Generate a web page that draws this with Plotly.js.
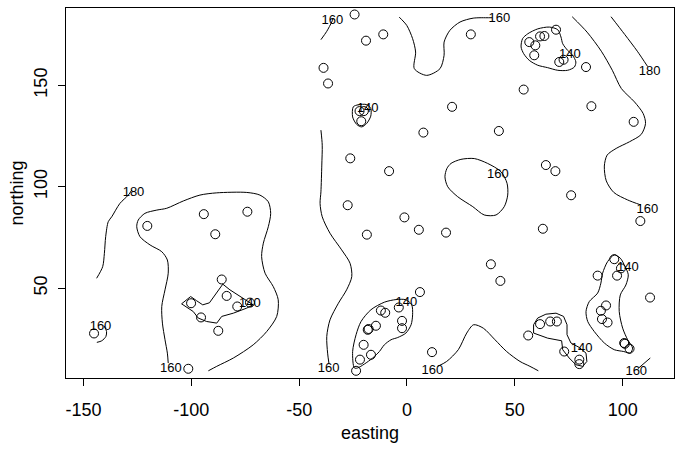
<!DOCTYPE html>
<html>
<head>
<meta charset="utf-8">
<script src="https://cdn.plot.ly/plotly-3.0.1.min.js"></script>
<style>html,body{margin:0;padding:0;background:#fff;}#chart{width:682px;height:451px;}</style>
</head>
<body>
<div id="chart"></div>
<script>
// sample locations
const easting = [-24.3,-19.0,-11.0,29.6,-38.7,-36.6,-22.0,-20.0,-21.2,-26.3,20.9,7.6,42.6,-8.3,54.1,56.7,59.5,61.7,63.7,69.1,59.0,70.6,72.6,83.0,85.5,105.1,64.4,68.8,76.1,-27.5,-1.2,108.2,-120.4,-94.2,-74.0,-88.9,-85.9,-83.6,-100.1,-95.5,-87.5,-78.7,-72.8,-101.4,-145.1,-18.6,5.5,18.1,63.0,38.9,43.3,6.0,-3.8,-12.1,-10.1,-2.3,-2.3,-14.4,-18.2,-20.1,-16.7,-21.8,-23.6,11.6,56.2,61.7,66.4,69.5,72.9,79.9,79.9,88.4,96.1,97.4,99.2,89.9,92.3,90.4,93.0,100.7,103.2,112.7,-17.8,101.0];
const northing = [184.9,172.0,175.1,175.1,158.6,150.9,137.3,137.3,132.3,114.0,139.4,126.7,127.5,107.7,147.9,171.3,169.7,174.1,174.3,177.4,164.8,161.5,162.6,159.0,139.7,132.0,110.7,107.7,95.8,90.9,84.9,83.1,80.7,86.5,87.7,76.6,54.3,46.2,42.6,35.6,29.0,41.0,42.9,10.3,27.7,76.4,78.8,77.4,79.3,61.8,53.6,48.1,40.5,39.0,37.9,33.9,30.3,31.5,29.5,22.1,17.2,14.8,9.3,18.5,26.7,32.3,33.6,33.6,18.8,14.8,12.6,56.2,64.3,56.2,59.8,38.9,41.5,34.8,33.1,23.0,20.2,45.4,29.9,22.6];

// contour lines
const c180w_x = [-127.6,-129.2,-133.1,-136.9,-138.5,-139.7,-140.3,-141.1,-143.9];
const c180w_y = [98.4,95.9,91.8,85.2,82.8,75.4,67.2,60.6,54.9];
const c160sw_x = [-140.5,-139.3,-139.6,-141.5,-143.8];
const c160sw_y = [31.5,28.7,26.2,24.1,23.3];
const c160w_x = [-110.7,-111.1,-112.2,-113.4,-113.7,-112.2,-110.7,-111.1,-113.7,-119.1,-123.8,-125.3,-124.6,-121.5,-116.0,-111.4,-103.7,-96.0,-88.2,-74.3,-68.2,-64.3,-63.2,-64.3,-66.6,-67.4,-65.8,-62.0,-59.7,-60.4,-65.0,-71.3,-80.5,-88.2,-92.1];
const c160w_y = [13.1,18.0,24.6,32.8,41.0,49.2,57.4,63.9,68.0,71.3,75.4,80.3,83.6,86.9,88.5,89.4,93.0,95.9,97.0,97.2,95.9,92.6,86.9,80.3,72.2,65.6,57.4,50.8,44.3,36.1,28.7,22.1,15.6,11.5,9.3];
const c140w_x = [-104.5,-100.3,-97.5,-94.7,-91.6,-88.2,-85.4,-82.1,-78.2,-73.6,-71.3,-74.3,-80.5,-85.9,-88.2,-92.9,-96.8,-99.1,-102.1,-104.5];
const c140w_y = [42.3,45.9,43.8,41.8,42.8,47.6,52.0,49.2,46.4,43.4,41.8,40.2,37.7,36.1,32.8,33.6,35.3,38.5,40.5,42.3];
const c160v_x = [-39.9,-39.3,-39.5,-39.9,-40.3,-39.3,-35.7,-30.3,-26.4,-25.6,-28.0,-31.8,-35.7,-37.2,-36.8,-36.2];
const c160v_y = [127.9,120.5,110.7,97.5,91.8,85.2,77.1,68.9,62.3,55.7,49.2,42.6,34.4,26.2,18.0,13.1];
const c160nw_x = [-39.9,-37.2,-34.9,-34.2];
const c160nw_y = [172.5,176.6,181.2,183.1];
const c160n_x = [-3.6,-0.1,2.6,4.0,3.4,9.1,15.3,17.2,17.2,19.9,24.6,30.7,37.7,39.5];
const c160n_y = [183.6,179.5,173.0,166.4,158.2,154.9,158.2,164.8,171.3,177.1,181.2,183.1,183.3,183.3];
const c160e_x = [76.6,83.5,90.1,95.2,99.4,105.5,109.5,110.6,108.6,103.2,97.0,92.8,91.5,92.4,95.9,102.3,108.5];
const c160e_y = [183.8,176.2,166.8,157.4,148.4,141.8,136.1,131.2,125.8,122.2,118.9,115.6,110.2,102.9,97.2,93.5,91.0];
const c180e_x = [94.6,101.0,106.8,111.6];
const c180e_y = [183.8,175.0,166.8,159.2];
const c140ne_x = [56.0,60.6,66.0,69.9,71.4,72.2,74.5,76.8,78.3,77.6,74.5,69.9,65.2,60.6,56.7,54.1,52.9,53.6,56.0];
const c140ne_y = [175.4,177.8,178.7,177.4,173.8,170.5,167.2,164.8,161.5,159.0,157.4,157.4,158.7,159.9,162.3,165.6,168.9,173.0,175.4];
const c140n_x = [-24.9,-22.6,-18.7,-16.8,-16.8,-18.7,-21.0,-23.3,-25.2,-24.9];
const c140n_y = [139.4,140.4,140.5,138.6,134.8,131.2,129.5,130.7,134.4,139.4];
const c160c_x = [20.4,25.0,31.2,37.4,43.6,46.4,46.7,45.1,41.3,35.8,30.5,23.5,18.9,17.6,18.5,20.4];
const c160c_y = [111.5,113.5,113.9,111.5,107.4,101.7,95.9,90.2,86.1,86.1,90.2,95.1,100.0,104.9,109.0,111.5];
const c160s_x = [14.2,18.4,23.8,27.7,30.9,35.4,40.8,46.2,52.4,57.0,60.9];
const c160s_y = [11.5,13.9,19.7,27.9,32.0,30.3,24.6,18.8,13.9,11.5,9.3];
const c140s_x = [-24.4,-25.2,-23.6,-21.3,-16.7,-10.5,-5.1,-0.5,2.2,2.6,1.9,-0.5,-4.3,-7.4,-10.5,-12.8,-15.9,-19.8,-22.9,-24.4];
const c140s_y = [10.7,18.8,27.1,33.6,39.4,43.1,44.4,44.3,41.8,36.9,32.0,27.9,25.7,24.6,22.1,18.8,15.6,12.6,10.7,10.7];
const c140se_x = [58.7,58.7,60.6,64.4,69.1,72.6,74.2,74.2,76.0,79.9,83.0,83.4,81.5,78.3,75.2,72.2,71.7,65.2,58.7];
const c140se_y = [27.9,32.0,35.3,37.2,37.7,36.1,32.0,27.1,23.0,20.8,18.0,13.9,11.5,12.3,15.6,19.7,24.1,25.4,27.9];
const c140e_x = [96.1,98.9,101.1,102.6,101.5,98.9,98.4,100.0,102.3,104.6,103.5,100.5,96.1,91.5,86.8,83.8,83.0,84.5,88.4,89.9,90.7,93.0,96.1];
const c140e_y = [66.4,64.8,60.7,56.6,51.6,46.7,38.5,30.3,24.6,20.5,18.0,18.8,19.7,23.0,28.7,33.6,38.5,43.4,47.6,52.5,57.4,63.1,66.4];
const c160se_x = [112.8,110.0,107.0];
const c160se_y = [15.6,13.1,10.3];

// contour labels
const labelText = ["180","160","160","140","160","160","140","160","140","180","160","160","140","160","140","140","160"];
const labelX = [-126.8,-142.1,-109.5,-72.8,-36.3,-34.6,-18.2,42.8,75.5,112.5,42.1,111.5,-0.3,11.8,81.0,102.4,106.3];
const labelY = [97.0,31.1,10.3,42.2,10.1,182.0,138.6,182.8,165.0,156.6,106.0,88.7,42.6,9.2,20.1,60.3,8.7];

// axis ticks
const xTickVals = [-150,-100,-50,0,50,100];
const xTickText = ["-150","-100","-50","0","50","100"];
const yTickVals = [50,100,150];
const yTickText = ["50","100","150"];

const lines = [
  [c180w_x,c180w_y,'spline'],[c160sw_x,c160sw_y,'spline'],[c160w_x,c160w_y,'spline'],
  [c140w_x,c140w_y,'linear'],[c160v_x,c160v_y,'spline'],[c160nw_x,c160nw_y,'spline'],
  [c160n_x,c160n_y,'spline'],[c160e_x,c160e_y,'spline'],[c180e_x,c180e_y,'spline'],
  [c140ne_x,c140ne_y,'spline'],[c140n_x,c140n_y,'spline'],[c160c_x,c160c_y,'spline'],
  [c160s_x,c160s_y,'spline'],[c140s_x,c140s_y,'spline'],[c140se_x,c140se_y,'linear'],
  [c140e_x,c140e_y,'spline'],[c160se_x,c160se_y,'linear']
];
const FONT = 'Liberation Sans, Arial, Helvetica, sans-serif';
const traces = lines.map(l => ({
  x: l[0], y: l[1], type: 'scatter', mode: 'lines',
  line: {color: '#000', width: 1, shape: l[2], smoothing: 0.8},
  hoverinfo: 'skip', showlegend: false
}));
traces.push({
  x: easting, y: northing, type: 'scatter', mode: 'markers',
  marker: {symbol: 'circle-open', size: 9, color: '#000', line: {color: '#000', width: 1}},
  hoverinfo: 'skip', showlegend: false
});
traces.push({
  x: labelX, y: labelY, text: labelText, type: 'scatter', mode: 'text',
  textposition: 'middle center', textfont: {family: FONT, size: 13, color: '#000'},
  hoverinfo: 'skip', showlegend: false
});

const layout = {
  width: 682, height: 451,
  margin: {l: 66, r: 8, t: 8, b: 73},
  paper_bgcolor: '#fff', plot_bgcolor: '#fff',
  font: {family: FONT, color: '#000'},
  showlegend: false, hovermode: false,
  xaxis: {
    range: [-158.1, 123.8], tickvals: xTickVals, ticktext: xTickText,
    ticks: 'outside', ticklen: 7, tickwidth: 1, tickcolor: '#000',
    showline: true, linecolor: '#000', linewidth: 1, mirror: true,
    showgrid: false, zeroline: false,
    tickfont: {family: FONT, size: 18, color: '#000'}, ticklabelstandoff: 8,
    title: {text: 'easting', font: {family: FONT, size: 18, color: '#000'}, standoff: 7}
  },
  yaxis: {
    range: [5.75, 188.1], tickvals: yTickVals, ticktext: yTickText, tickangle: -90,
    ticks: 'outside', ticklen: 7, tickwidth: 1, tickcolor: '#000',
    showline: true, linecolor: '#000', linewidth: 1, mirror: true,
    showgrid: false, zeroline: false,
    tickfont: {family: FONT, size: 18, color: '#000'}, ticklabelstandoff: 4,
    title: {text: 'northing', font: {family: FONT, size: 18, color: '#000'}, standoff: 2}
  }
};
Plotly.newPlot('chart', traces, layout, {staticPlot: true, displayModeBar: false});
</script>
</body>
</html>
